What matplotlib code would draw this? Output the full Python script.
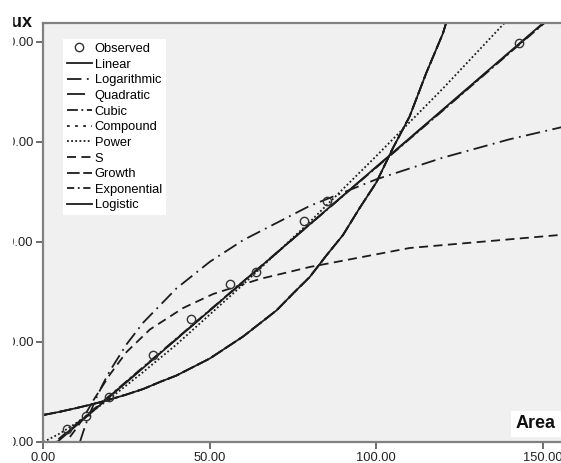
import matplotlib
matplotlib.use('Agg')
import matplotlib.pyplot as plt
from matplotlib.patches import Rectangle

plt.rcParams['font.family'] = 'Liberation Sans'

# observed points
area_obs = [7.1, 12.8, 19.7, 33.0, 44.4, 56.1, 63.9, 78.3, 85.1, 142.9]
flux_obs = [2.6, 5.2, 9.0, 17.4, 24.6, 31.6, 34.0, 44.2, 48.3, 79.8]

# fitted curves
lin_x = [0, 167]
lin_y = [-2.4, 93.5]

quad_x = [0, 20, 40, 60, 80, 100, 120, 140, 167]
quad_y = [-2.2, 9.2, 20.6, 32.0, 43.5, 55.0, 66.4, 77.9, 93.3]

cub_x = [0, 20, 40, 60, 80, 100, 120, 140, 167]
cub_y = [-2.0, 9.3, 20.7, 32.1, 43.5, 54.9, 66.3, 77.8, 93.2]

log_x = [11, 12, 13, 14, 16, 18, 20, 25, 30, 40, 50, 60, 80, 100, 120, 140, 167]
log_y = [0, 2.07, 3.98, 5.74, 8.92, 11.72, 14.23, 19.54, 23.88, 30.73, 36.04,
         40.37, 47.22, 52.53, 56.87, 60.54, 64.72]

s_x = [8, 10, 12, 15, 20, 25, 32, 42, 51, 65, 80, 110, 155, 167]
s_y = [1.0, 2.8, 4.8, 8.3, 13.5, 18.0, 22.5, 26.8, 29.6, 32.6, 35.0, 38.8, 41.4, 41.9]

pow_x = [0, 5, 10, 20, 30, 40, 60, 80, 100, 120, 145]
pow_y = [0, 1.7, 3.85, 8.7, 14.0, 19.5, 31.5, 44.0, 57.2, 70.7, 88.4]

# compound / growth / exponential / logistic give the same curve
exp_x = [0, 5, 10, 15, 20, 25, 30, 35, 40, 45, 50, 55, 60, 65, 70, 75, 80,
         85, 90, 95, 100, 105, 110, 115, 120, 125]
exp_y = [5.4, 6.05, 6.8, 7.6, 8.5, 9.5, 10.6, 12.0, 13.3, 15.0, 16.7, 18.9,
         21.1, 23.7, 26.3, 29.7, 33.0, 37.3, 41.4, 46.8, 51.9, 58.8, 65.1,
         73.8, 81.7, 92.6]

y_ticks = [0, 20, 40, 60, 80]
x_ticks = [0, 50, 100, 150]

W, H = 561, 463
fig = plt.figure(figsize=(W / 100, H / 100), dpi=100)
ax = fig.add_axes([43.3 / W, 21 / H, 167 * 3.33 / W, 419 / H])
ax.set_facecolor('#f0f0f0')

ink = '#1c1c1c'
lw = 1.3
ax.plot(area_obs, flux_obs, 'o', ms=6, mfc='none', mec='#333333', mew=1.0, label='Observed', zorder=5)
ax.plot(lin_x, lin_y, color=ink, lw=lw, ls='-', label='Linear')
ax.plot(log_x, log_y, color=ink, lw=lw, ls=(0, (8, 3, 1, 3)), label='Logarithmic')
ax.plot(quad_x, quad_y, color=ink, lw=lw, ls=(0, (10, 5)), label='Quadratic')
ax.plot(cub_x, cub_y, color=ink, lw=lw, ls=(0, (6, 2, 1, 2)), label='Cubic')
ax.plot(exp_x, exp_y, color=ink, lw=lw, ls=(0, (1.5, 3)), label='Compound')
ax.plot(pow_x, pow_y, color=ink, lw=lw, ls=(0, (1, 1.3)), label='Power')
ax.plot(s_x, s_y, color=ink, lw=lw, ls=(0, (5, 3)), label='S')
ax.plot(exp_x, exp_y, color=ink, lw=lw, ls=(0, (7, 2)), label='Growth')
ax.plot(exp_x, exp_y, color=ink, lw=lw, ls=(0, (4, 2, 1, 2)), label='Exponential')
ax.plot(exp_x, exp_y, color=ink, lw=lw, ls='-', label='Logistic')

ax.set_xlim(0, 167)
ax.set_ylim(0, 83.8)
ax.set_xticks(x_ticks)
ax.set_xticklabels([f'{v:.2f}' for v in x_ticks])
ax.set_yticks(y_ticks)
ax.set_yticklabels([f'{v:.2f}' for v in y_ticks])
ax.tick_params(direction='out', length=5, width=1.2, color='#555555',
               labelsize=9.3, pad=2, labelcolor='#222222')

for side in ['left', 'bottom', 'top', 'right']:
    ax.spines[side].set_color('#808080')
    ax.spines[side].set_linewidth(1.6)

leg = ax.legend(loc='upper left', bbox_to_anchor=(63 / W, 1 - 39 / H),
                bbox_transform=fig.transFigure, borderaxespad=0,
                fontsize=9.3, handlelength=1.95, handletextpad=0.2,
                labelspacing=0.28, borderpad=0.3, fancybox=False,
                frameon=True, framealpha=1)
leg.get_frame().set_facecolor('white')
leg.get_frame().set_edgecolor('none')

fig.text(556 / W, 1 - 424 / H, 'Area', ha='right', va='center', fontsize=13,
         fontweight='bold', color='#111111',
         bbox=dict(boxstyle='square,pad=0.25', fc='white', ec='none'))
fig.text(33 / W, 1 - 27 / H, 'Flux', ha='right', va='baseline', fontsize=13,
         fontweight='bold', color='#111111')

# the picture is cut on the left
fig.patches.append(Rectangle((0, 0), 12 / W, 1, transform=fig.transFigure,
                             color='white', zorder=10))

fig.savefig('out.png', dpi=100)
